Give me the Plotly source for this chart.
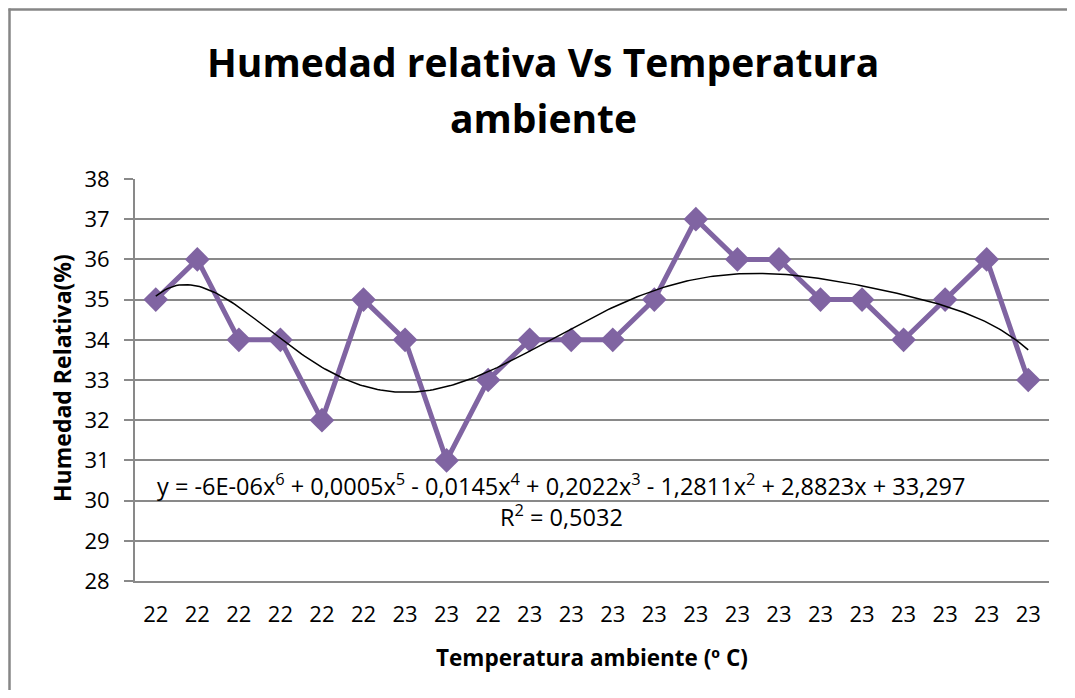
import numpy as np
import plotly.graph_objects as go

# Data
categories = ["22", "22", "22", "22", "22", "22", "23", "23", "22", "23", "23",
              "23", "23", "23", "23", "23", "23", "23", "23", "23", "23", "23"]
humedad = [35, 36, 34, 34, 32, 35, 34, 31, 33, 34, 34, 34, 35, 37, 36, 36, 35, 35, 34, 35, 36, 33]
y_ticks = [28, 29, 30, 31, 32, 33, 34, 35, 36, 37, 38]

x_idx = np.arange(1, len(humedad) + 1)
coef = np.polyfit(x_idx, humedad, 6)
xs = np.linspace(1, len(humedad), 300)
ys = np.polyval(coef, xs)

FONT = "Open Sans"
GRID = "#898989"

# page body has an 8px margin; lay out in window pixels
OFF = 8
W, H = 1075 - 2 * OFF, 698 - 2 * OFF
L, T = 135 - OFF, 179 - OFF
R = (OFF + W) - 1049
B = (OFF + H) - 581
PW, PH = W - L - R, H - T - B


def px_x(wx):
    return (wx - OFF - L) / PW


def px_y(wy):
    return 1 - (wy - OFF - T) / PH


fig = go.Figure()
fig.add_trace(go.Scatter(
    x=x_idx, y=humedad, mode="lines+markers",
    line=dict(color="#8064A2", width=5),
    marker=dict(symbol="diamond", size=19, color="#8064A2"),
    showlegend=False, hoverinfo="skip"))
fig.add_trace(go.Scatter(
    x=xs, y=ys, mode="lines",
    line=dict(color="black", width=1.5),
    showlegend=False, hoverinfo="skip"))

fig.update_layout(
    width=W, height=H,
    paper_bgcolor="white", plot_bgcolor="white",
    margin=dict(l=L, r=R, t=T, b=B),
    font=dict(family=FONT, color="black"),
)
fig.update_xaxes(
    range=[0.5, len(humedad) + 0.5],
    tickmode="array", tickvals=list(x_idx), ticktext=categories,
    tickfont=dict(size=22), ticks="", ticklabelstandoff=13,
    showgrid=False, zeroline=False,
    showline=True, linecolor=GRID, linewidth=2,
)
fig.update_yaxes(
    range=[28, 38], tickmode="array", tickvals=y_ticks,
    tickfont=dict(size=22), ticks="outside", ticklen=9, tickcolor=GRID, tickwidth=1.5,
    ticklabelstandoff=10,
    showgrid=True, gridcolor=GRID, gridwidth=1.5, zeroline=False,
    showline=True, linecolor=GRID, linewidth=2,
)

# Title (two lines)
fig.add_annotation(xref="paper", yref="paper", x=px_x(543), y=px_y(61),
                   text="<b>Humedad relativa Vs Temperatura</b>", showarrow=False,
                   font=dict(family=FONT, size=39, color="black"),
                   xanchor="center", yanchor="middle")
fig.add_annotation(xref="paper", yref="paper", x=px_x(543), y=px_y(118),
                   text="<b>ambiente</b>", showarrow=False,
                   font=dict(family=FONT, size=39, color="black"),
                   xanchor="center", yanchor="middle")
# Axis titles
fig.add_annotation(xref="paper", yref="paper", x=px_x(592), y=px_y(657),
                   text="<b>Temperatura ambiente (º C)</b>", showarrow=False,
                   font=dict(family=FONT, size=22.5, color="black"),
                   xanchor="center", yanchor="middle")
fig.add_annotation(xref="paper", yref="paper", x=px_x(62), y=px_y(378),
                   text="<b>Humedad Relativa(%)</b>", showarrow=False, textangle=-90,
                   font=dict(family=FONT, size=23, color="black"),
                   xanchor="center", yanchor="middle")

# Trendline equation
fig.add_annotation(
    xref="paper", yref="y", x=px_x(561), y=30.4,
    text="y = -6E-06x<sup>6</sup> + 0,0005x<sup>5</sup> - 0,0145x<sup>4</sup> + 0,2022x<sup>3</sup> - 1,2811x<sup>2</sup> + 2,8823x + 33,297",
    showarrow=False, font=dict(family=FONT, size=23.5, color="black"),
    xanchor="center", yanchor="middle")
fig.add_annotation(
    xref="paper", yref="y", x=px_x(561), y=29.62,
    text="R<sup>2</sup> = 0,5032",
    showarrow=False, font=dict(family=FONT, size=23.5, color="black"),
    xanchor="center", yanchor="middle")

# chart outer border (left and top edges visible)
fig.add_shape(type="line", xref="paper", yref="paper",
              x0=px_x(9.5), x1=px_x(9.5), y0=px_y(800), y1=px_y(8.5),
              line=dict(color="#868686", width=2.5), layer="below")
fig.add_shape(type="line", xref="paper", yref="paper",
              x0=px_x(8.5), x1=px_x(1200), y0=px_y(9.5), y1=px_y(9.5),
              line=dict(color="#868686", width=2.5), layer="below")

fig.write_html("out.html")
